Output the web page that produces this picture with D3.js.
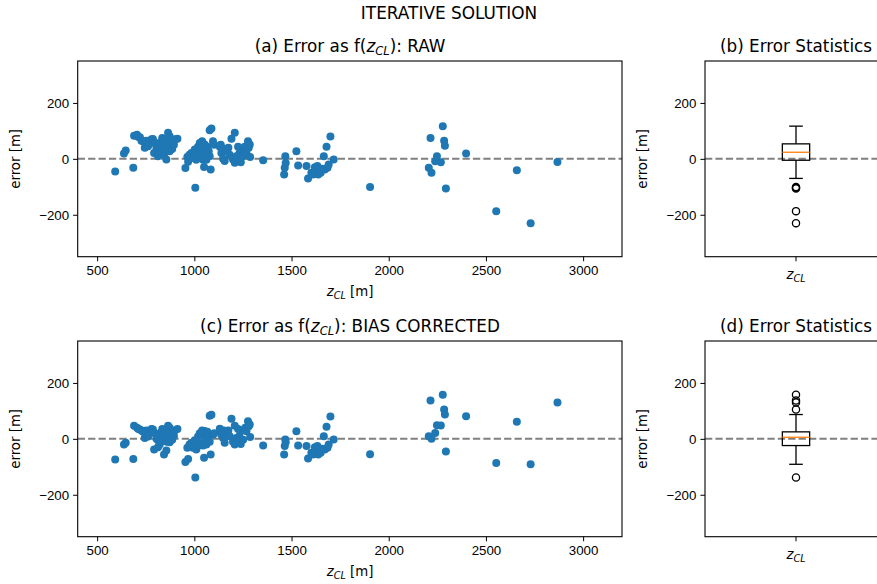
<!DOCTYPE html>
<meta charset="utf-8">
<style>
    body { margin: 0; background: #fff; }
    svg { font-family: "DejaVu Sans", sans-serif; }
    .tick text { font-size: 13.3px; fill: #000; }
    .tick line { stroke: #000; stroke-width: 1px; }
    .domain { display: none; }
    .frame { fill: none; stroke: #000; stroke-width: 1.1px; }
    .zero { stroke: #808080; stroke-width: 2px; stroke-dasharray: 7.3 3.1; }
    .dot { fill: #1f77b4; }
    .ttl { font-size: 16.8px; }
    .lbl { font-size: 13.3px; }
</style>
<svg width="877" height="584"></svg>
<script src="https://d3js.org/d3.v7.min.js"></script>
<script>

    // cloud-layer height (m) for each sample
    var zcl = [
        593, 638, 647, 686, 690, 705, 712, 720, 728, 736, 745, 753, 762, 770, 780,
        787, 793, 799, 805, 813, 813, 818, 822, 828, 830, 835, 839, 844, 848, 851,
        856, 858, 861, 865, 868, 873, 873, 877, 882, 886, 890, 895, 900, 913,
        954, 964, 968, 975, 985, 993, 1002, 1005, 1010, 1015, 1019, 1024, 1028, 1028,
        1036, 1040, 1045, 1050, 1053, 1057, 1062, 1067, 1074, 1079, 1079, 1084, 1088, 1096, 1102,
        1131, 1136, 1139, 1148, 1153, 1156, 1165, 1175, 1182, 1191, 1199, 1208, 1208,
        1216, 1225, 1232, 1239, 1242, 1251, 1259, 1262, 1268, 1276, 1280, 1285, 1287, 1354,
        1462, 1465, 1468, 1470, 1525, 1534, 1577, 1585, 1602, 1611, 1620, 1623, 1633, 1637,
        1645, 1650, 1660, 1666, 1671, 1680, 1685, 1691, 1700, 1717,
        1904, 2206, 2215, 2220, 2239, 2248, 2268, 2278, 2285, 2289, 2294, 2398, 2553, 2659, 2730, 2868
    ];

    var errRaw = [
        -45, 19, 30, -32, 83, 86, 78, 77, 65, 63, 40, 65, 45, 55, 70,
        71, 21, 57, 40, 33, 9, 50, 21, 60, 33, 75, 51, 15, 40, 69,
        -2, 30, 45, 93, 55, 81, 27, 60, 45, 35, 63, 50, 70, 72,
        -33, 7, -10, 15, 21, 3, 33, -103, -3, 25, 43, 10, 57, 15,
        33, 63, -3, -29, 51, 21, -3, 43, 27, 9, 102, -38, 109, 63, 50,
        43, 50, 21, 0, 36, -8, 27, 40, 15, 72, -2, 93, -14,
        9, 43, 20, -12, 33, 9, 43, 30, 21, 63, 40, 51, 7, -5,
        -56, -32, 9, -15, 27, -24, -26, -70, -50, -56, -30, -41, -26, -56,
        -45, -50, -35, 9, -38, 43, -32, -20, 80, -2,
        -101, -32, 75, -50, -9, 9, -12, 117, 65, 47, -106, 19, -187, -41, -230, -11
    ];

    var errCorr = [
        -74, -20, -14, -72, 47, 40, 35, 33, 30, 25, 3, 30, 8, 18, 35,
        33, -38, 20, 0, -5, -30, 12, -20, 22, -8, 35, 12, -56, 2, 30,
        -42, -10, 5, 47, 15, 40, -12, 20, 8, -3, 25, 10, 30, 35,
        -83, -32, -72, -20, -14, -32, -5, -138, -38, -10, 8, -24, 20, -15,
        15, 30, -24, -68, 28, 0, -20, 25, 10, -10, 83, -56, 86, 15, 20,
        36, 30, 15, 3, 30, -14, 22, 30, 9, 72, -10, 47, -20,
        3, 35, 10, -18, 30, -3, 33, 40, 27, 63, 45, 51, 7, -24,
        -56, -26, -2, -12, 27, -24, -26, -70, -50, -56, -30, -41, -26, -56,
        -45, -50, -35, 9, -38, 43, -32, -20, 80, -2,
        -55, 9, 137, 0, 21, 49, 48, 158, 105, 87, -45, 81, -86, 61, -91, 130
    ];

    // quartiles: [q1, median, q3]
    var boxRaw = [-5, 23.6, 53.6];
    var boxCorr = [-24, 5.7, 25];

    var xTicks = [500, 1000, 1500, 2000, 2500, 3000];
    var yTicks = [-200, 0, 200];

    var svg = d3.select("svg");

    var fmt = function(d) { return d < 0 ? "\u2212" + Math.abs(d) : d; };

    svg.append("text")
            .attr("x", 449).attr("y", 19)
            .attr("text-anchor", "middle")
            .style("font-size", "16.9px")
            .text("ITERATIVE SOLUTION");

    // z_CL in mathtext style
    function zText(sel, size) {
        sel.append("tspan").style("font-style", "italic").text("z");
        sel.append("tspan").style("font-style", "italic").style("font-size", size + "px")
                .attr("dy", 3).text("CL");
        return sel.append("tspan").attr("dy", -3);
    }

    function scatterPanel(top, yvals, letter, name) {
        var bottom = top + 195.7;
        var x = d3.scaleLinear().domain([400, 3200]).range([77.7, 622]);
        var y = d3.scaleLinear().domain([-350, 350]).range([bottom, top]);
        var g = svg.append("g");

        g.append("line").attr("class", "zero")
                .attr("x1", x.range()[0]).attr("x2", x.range()[1])
                .attr("y1", y(0)).attr("y2", y(0));

        g.append("g").selectAll("circle")
                .data(zcl)
                .enter().append("circle")
                .attr("class", "dot")
                .attr("r", 4)
                .attr("cx", function(d) { return x(d); })
                .attr("cy", function(d, i) { return y(yvals[i]); });

        g.append("g").attr("transform", "translate(0," + bottom + ")")
                .call(d3.axisBottom(x).tickValues(xTicks).tickSize(4.6).tickPadding(4).tickFormat(fmt));
        g.append("g").attr("transform", "translate(77.7,0)")
                .call(d3.axisLeft(y).tickValues(yTicks).tickSize(4.6).tickPadding(4).tickFormat(fmt));

        g.append("rect").attr("class", "frame")
                .attr("x", 77.7).attr("y", top).attr("width", 622 - 77.7).attr("height", bottom - top);

        var t = g.append("text").attr("class", "ttl")
                .attr("x", 350).attr("y", top - 9).attr("text-anchor", "middle");
        t.append("tspan").text("(" + letter + ") Error as f(");
        zText(t, 11.5).text("): " + name);

        var xl = g.append("text").attr("class", "lbl")
                .attr("x", 350).attr("y", bottom + 39).attr("text-anchor", "middle");
        zText(xl, 9.7).text(" [m]");

        g.append("text").attr("class", "lbl")
                .attr("transform", "translate(20," + y(0) + ") rotate(-90)")
                .attr("text-anchor", "middle")
                .text("error [m]");
    }

    function boxPanel(top, yvals, q, letter) {
        var bottom = top + 195.7;
        var x = d3.scaleLinear().domain([0.5, 1.5]).range([705, 887]);
        var y = d3.scaleLinear().domain([-350, 350]).range([bottom, top]);
        var g = svg.append("g");

        var iqr = q[2] - q[0];
        var hiFence = q[2] + 1.5 * iqr, loFence = q[0] - 1.5 * iqr;
        var inside = yvals.filter(function(v) { return v >= loFence && v <= hiFence; });
        var hi = d3.max(inside), lo = d3.min(inside);
        var outliers = yvals.filter(function(v) { return v < lo || v > hi; });

        g.append("line").attr("class", "zero")
                .attr("x1", x(0.5)).attr("x2", x(1.5))
                .attr("y1", y(0)).attr("y2", y(0));

        var bx = g.append("g").style("stroke", "#000").style("stroke-width", "1.3px").style("fill", "none");
        bx.append("line").attr("x1", x(1)).attr("x2", x(1)).attr("y1", y(q[2])).attr("y2", y(hi));
        bx.append("line").attr("x1", x(1)).attr("x2", x(1)).attr("y1", y(q[0])).attr("y2", y(lo));
        bx.append("line").attr("x1", x(0.9625)).attr("x2", x(1.0375)).attr("y1", y(hi)).attr("y2", y(hi));
        bx.append("line").attr("x1", x(0.9625)).attr("x2", x(1.0375)).attr("y1", y(lo)).attr("y2", y(lo));
        bx.append("rect").attr("x", x(0.925)).attr("width", x(1.075) - x(0.925))
                .attr("y", y(q[2])).attr("height", y(q[0]) - y(q[2]));
        g.append("line").style("stroke", "#ff7f0e").style("stroke-width", "1.3px")
                .attr("x1", x(0.925)).attr("x2", x(1.075)).attr("y1", y(q[1])).attr("y2", y(q[1]));
        bx.selectAll("circle").data(outliers).enter().append("circle")
                .attr("r", 3.6).attr("cx", x(1)).attr("cy", function(d) { return y(d); });

        g.append("g").attr("transform", "translate(705,0)")
                .call(d3.axisLeft(y).tickValues(yTicks).tickSize(4.6).tickPadding(4).tickFormat(fmt));
        g.append("line").style("stroke", "#000")
                .attr("x1", x(1)).attr("x2", x(1)).attr("y1", bottom).attr("y2", bottom + 4.6);
        var tl = g.append("text").attr("class", "lbl")
                .attr("x", x(1)).attr("y", bottom + 22).attr("text-anchor", "middle");
        zText(tl, 9.7);

        g.append("rect").attr("class", "frame")
                .attr("x", 705).attr("y", top).attr("width", 182).attr("height", bottom - top);

        g.append("text").attr("class", "ttl")
                .attr("x", x(1)).attr("y", top - 9).attr("text-anchor", "middle")
                .text("(" + letter + ") Error Statistics");

        g.append("text").attr("class", "lbl")
                .attr("transform", "translate(647," + y(0) + ") rotate(-90)")
                .attr("text-anchor", "middle")
                .text("error [m]");
    }

    scatterPanel(61, errRaw, "a", "RAW");
    scatterPanel(341, errCorr, "c", "BIAS CORRECTED");
    boxPanel(61, errRaw, boxRaw, "b");
    boxPanel(341, errCorr, boxCorr, "d");

</script>
